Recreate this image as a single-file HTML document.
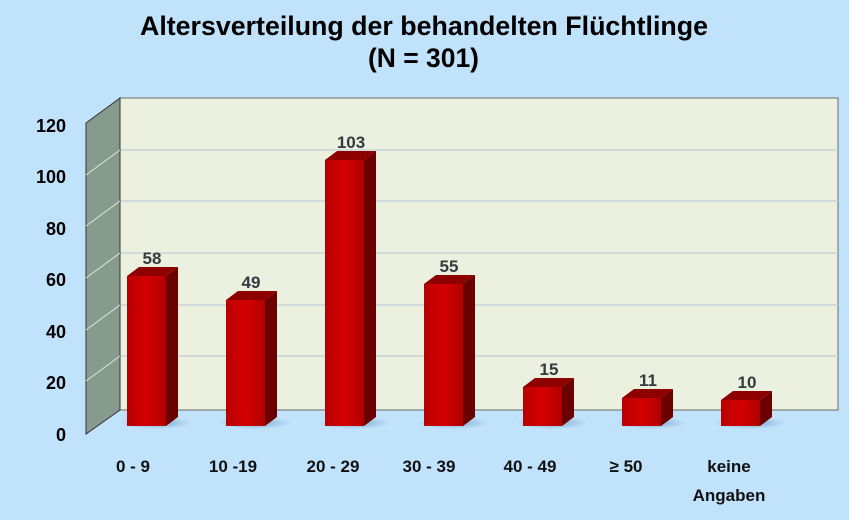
<!DOCTYPE html>
<html><head><meta charset="utf-8"><style>
html,body{margin:0;padding:0;background:#c0e2fb;}
svg{display:block;}
text{font-family:"Liberation Sans",sans-serif;font-weight:bold;}
</style></head><body>
<svg width="849" height="520" viewBox="0 0 849 520" xmlns="http://www.w3.org/2000/svg">
<defs>
<linearGradient id="fr" x1="0" x2="1" y1="0" y2="0">
<stop offset="0" stop-color="#b80000"/><stop offset="0.5" stop-color="#d40000"/><stop offset="1" stop-color="#b00000"/>
</linearGradient>
<radialGradient id="sh" cx="0.5" cy="0.5" r="0.5">
<stop offset="0" stop-color="#5f90b8" stop-opacity="0.7"/><stop offset="1" stop-color="#5f90b8" stop-opacity="0"/>
</radialGradient>
</defs>
<rect width="849" height="520" fill="#c0e2fb"/>
<text x="140" y="35" font-size="27" textLength="568" lengthAdjust="spacingAndGlyphs">Altersverteilung der behandelten Flüchtlinge</text>
<text x="368" y="67" font-size="27" textLength="111" lengthAdjust="spacingAndGlyphs">(N = 301)</text>
<rect x="120" y="98" width="718" height="312" fill="#ebf1de" stroke="#6a6a6a" stroke-width="1"/>
<g stroke="#c8d3dc" stroke-width="1.5">
<line x1="120" y1="150" x2="838" y2="150"/><line x1="120" y1="201" x2="838" y2="201"/>
<line x1="120" y1="253" x2="838" y2="253"/><line x1="120" y1="305" x2="838" y2="305"/>
<line x1="120" y1="356" x2="838" y2="356"/>
</g>
<polygon points="86,123 120,98 120,410 86,434" fill="#879a8e" stroke="#333" stroke-width="1"/>
<g stroke="#dfe8e0" stroke-width="1">
<line x1="86" y1="175" x2="120" y2="150"/><line x1="86" y1="226" x2="120" y2="201"/>
<line x1="86" y1="278" x2="120" y2="253"/><line x1="86" y1="330" x2="120" y2="305"/>
<line x1="86" y1="381" x2="120" y2="356"/>
</g>
<g font-size="18" text-anchor="end">
<text x="66" y="132">120</text><text x="66" y="183">100</text><text x="66" y="235">80</text>
<text x="66" y="286">60</text><text x="66" y="338">40</text><text x="66" y="389">20</text><text x="66" y="441">0</text>
</g>
<g>
<ellipse cx="156" cy="423" rx="36" ry="6" fill="url(#sh)"/>
<ellipse cx="255" cy="423" rx="36" ry="6" fill="url(#sh)"/>
<ellipse cx="354" cy="423" rx="36" ry="6" fill="url(#sh)"/>
<ellipse cx="453" cy="423" rx="36" ry="6" fill="url(#sh)"/>
<ellipse cx="552" cy="423" rx="36" ry="6" fill="url(#sh)"/>
<ellipse cx="651" cy="423" rx="36" ry="6" fill="url(#sh)"/>
<ellipse cx="750" cy="423" rx="36" ry="6" fill="url(#sh)"/>
</g>
<polygon points="166,276 178,267 178,417 166,426" fill="#6a0000"/>
<polygon points="127,276 139,267 178,267 166,276" fill="#8e0000"/>
<rect x="127" y="276" width="39" height="150" fill="url(#fr)"/>
<polygon points="265,300 277,291 277,417 265,426" fill="#6a0000"/>
<polygon points="226,300 238,291 277,291 265,300" fill="#8e0000"/>
<rect x="226" y="300" width="39" height="126" fill="url(#fr)"/>
<polygon points="364,160 376,151 376,417 364,426" fill="#6a0000"/>
<polygon points="325,160 337,151 376,151 364,160" fill="#8e0000"/>
<rect x="325" y="160" width="39" height="266" fill="url(#fr)"/>
<polygon points="463,284 475,275 475,417 463,426" fill="#6a0000"/>
<polygon points="424,284 436,275 475,275 463,284" fill="#8e0000"/>
<rect x="424" y="284" width="39" height="142" fill="url(#fr)"/>
<polygon points="562,387 574,378 574,417 562,426" fill="#6a0000"/>
<polygon points="523,387 535,378 574,378 562,387" fill="#8e0000"/>
<rect x="523" y="387" width="39" height="39" fill="url(#fr)"/>
<polygon points="661,398 673,389 673,417 661,426" fill="#6a0000"/>
<polygon points="622,398 634,389 673,389 661,398" fill="#8e0000"/>
<rect x="622" y="398" width="39" height="28" fill="url(#fr)"/>
<polygon points="760,400 772,391 772,417 760,426" fill="#6a0000"/>
<polygon points="721,400 733,391 772,391 760,400" fill="#8e0000"/>
<rect x="721" y="400" width="39" height="26" fill="url(#fr)"/>
<g font-size="17" text-anchor="middle" fill="#333a40">
<text x="152" y="264">58</text><text x="251" y="288">49</text><text x="351" y="148">103</text>
<text x="449" y="272">55</text><text x="549" y="375">15</text><text x="648" y="386">11</text><text x="747" y="388">10</text>
</g>
<g font-size="17" text-anchor="middle" fill="#111">
<text x="133" y="472">0 - 9</text><text x="233" y="472">10 -19</text><text x="333" y="472">20 - 29</text>
<text x="429" y="472">30 - 39</text><text x="530" y="472">40 - 49</text><text x="626" y="472">≥ 50</text>
<text x="729" y="472">keine</text><text x="729" y="501">Angaben</text>
</g>
</svg>
</body></html>
